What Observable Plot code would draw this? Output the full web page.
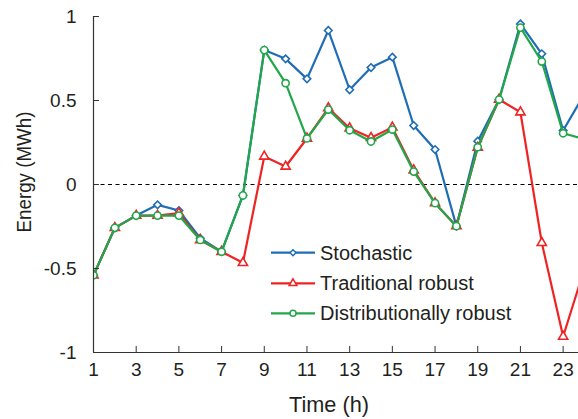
<!DOCTYPE html>
<html>
<head>
<meta charset="utf-8">
<script src="https://cdn.jsdelivr.net/npm/d3@7"></script>
<script src="https://cdn.jsdelivr.net/npm/@observablehq/plot@0.6"></script>
<style>
  html, body { margin: 0; padding: 0; background: #fff; overflow: hidden; }
  #wrap { position: relative; width: 578px; height: 419px; overflow: hidden; }
  #overlay { position: absolute; left: 0; top: 0; }
</style>
</head>
<body>
<div id="wrap"></div>
<script>
const hours = d3.range(1, 25);
const stochastic = [-0.54, -0.258, -0.185, -0.121, -0.155, -0.32, -0.40, -0.065, 0.80, 0.748, 0.629, 0.917, 0.564, 0.696, 0.758, 0.351, 0.208, -0.248, 0.258, 0.506, 0.956, 0.778, 0.321, 0.54];
const traditional = [-0.54, -0.258, -0.185, -0.185, -0.17, -0.33, -0.40, -0.466, 0.167, 0.107, 0.274, 0.455, 0.335, 0.278, 0.34, 0.085, -0.111, -0.248, 0.22, 0.506, 0.43, -0.347, -0.905, -0.5];
const distributional = [-0.54, -0.258, -0.185, -0.185, -0.185, -0.33, -0.40, -0.065, 0.80, 0.603, 0.274, 0.446, 0.323, 0.256, 0.327, 0.077, -0.111, -0.248, 0.222, 0.506, 0.934, 0.732, 0.305, 0.27];
const seriesNames = ["Stochastic", "Traditional robust", "Distributionally robust"];
const xTicks = [1, 3, 5, 7, 9, 11, 13, 15, 17, 19, 21, 23];
const yTicks = [-1, -0.5, 0, 0.5, 1];
const yTickLabels = ["-1", "-0.5", "0", "0.5", "1"];
const xTitle = "Time (h)";
const yTitle = "Energy (MWh)";

const colors = ["#1f6db5", "#ee2424", "#22a64a"];
const symbols = ["diamond2", "triangle", "circle"];
const radii = [3.4, 3.4, 3.6];
const legendRadii = [2.7, 2.9, 3.0];
const allValues = [stochastic, traditional, distributional];

const FONT = "'Liberation Sans', Arial, Helvetica, sans-serif";
const ink = "#231f20";

const seriesMarks = [];
allValues.forEach((vals, i) => {
  const data = hours.map((h, j) => ({hour: h, value: vals[j]}));
  seriesMarks.push(Plot.line(data, {x: "hour", y: "value", stroke: colors[i], strokeWidth: 2.2, clip: true}));
  seriesMarks.push(Plot.dot(data, {x: "hour", y: "value", stroke: colors[i], fill: "white", strokeWidth: 1.6, symbol: symbols[i], r: radii[i], clip: true}));
});

const chart = Plot.plot({
  width: 578,
  height: 419,
  marginLeft: 93,
  marginRight: 0,
  marginTop: 16,
  marginBottom: 67,
  style: {fontFamily: FONT, fontSize: "19px", color: ink, background: "white", overflow: "hidden"},
  x: {domain: [1, 23.72]},
  y: {domain: [-1, 1]},
  marks: [
    Plot.ruleY([0], {stroke: "#000", strokeWidth: 1, strokeDasharray: "4,3.5"}),
    ...seriesMarks,
    Plot.ruleX([1], {stroke: "#333", strokeWidth: 1.2}),
    Plot.ruleY([-1], {stroke: "#333", strokeWidth: 1.2}),
    Plot.ruleY(yTicks, {x1: 1, x2: 1.28, stroke: "#333", strokeWidth: 1}),
    Plot.ruleX(xTicks, {y1: -1, y2: -0.964, stroke: "#333", strokeWidth: 1}),
    Plot.axisY(yTicks, {tickSize: 0, tickPadding: 17, tickFormat: (d) => yTickLabels[yTicks.indexOf(d)], fontSize: 19, label: null}),
    Plot.axisX(xTicks, {tickSize: 0, tickPadding: 10, fontSize: 19, label: null})
  ]
});
document.getElementById("wrap").appendChild(chart);

// Overlay: axis titles and legend
const overlay = d3.select("#wrap").append("svg")
  .attr("id", "overlay").attr("width", 578).attr("height", 419)
  .style("font-family", FONT);

overlay.append("text")
  .attr("x", 329).attr("y", 412).attr("text-anchor", "middle")
  .attr("font-size", 22).attr("fill", ink)
  .attr("textLength", 80).attr("lengthAdjust", "spacingAndGlyphs")
  .text(xTitle);

overlay.append("text")
  .attr("transform", "translate(31,172) rotate(-90)")
  .attr("text-anchor", "middle")
  .attr("font-size", 21).attr("fill", ink)
  .attr("textLength", 121).attr("lengthAdjust", "spacingAndGlyphs")
  .text(yTitle);

const rowsY = [252.7, 283.3, 313.3];
const symMap = {diamond2: d3.symbolDiamond2, triangle: d3.symbolTriangle, circle: d3.symbolCircle};
seriesNames.forEach((name, i) => {
  const g = overlay.append("g").attr("transform", `translate(0,${rowsY[i]})`);
  g.append("line").attr("x1", 271).attr("x2", 315).attr("y1", 0).attr("y2", 0)
    .attr("stroke", colors[i]).attr("stroke-width", 2.2);
  g.append("path").attr("transform", "translate(293,0)")
    .attr("d", d3.symbol(symMap[symbols[i]], Math.PI * legendRadii[i] * legendRadii[i])())
    .attr("fill", "white").attr("stroke", colors[i]).attr("stroke-width", 1.5);
  g.append("text").attr("x", 320).attr("y", 0).attr("dy", "0.35em")
    .attr("font-size", 20).attr("fill", ink).text(name);
});
</script>
</body>
</html>
